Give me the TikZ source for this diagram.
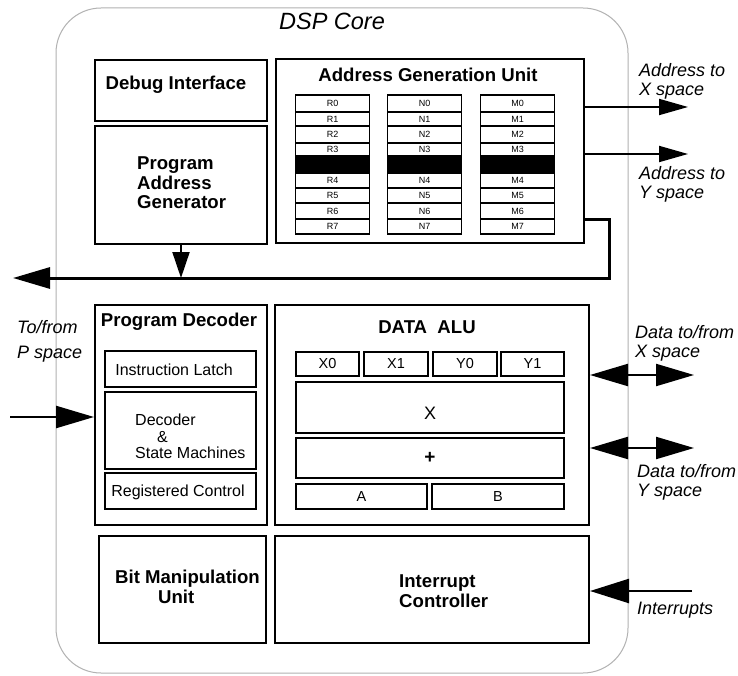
\documentclass[tikz,border=0pt]{standalone}
\usepackage{fontspec}
\setmainfont{Liberation Sans}
\usetikzlibrary{arrows.meta}
\begin{document}
\begin{tikzpicture}[x=1pt,y=-1pt,
  blk/.style={draw, line width=2pt, inner sep=0pt},
  cell/.style={draw, line width=1.4pt, inner sep=0pt, minimum width=74pt,
    font=\fontsize{9}{10}\selectfont},
  reg/.style={draw, line width=1.6pt, inner sep=0pt, font=\fontsize{14.5}{16}\selectfont},
  ttl/.style={font=\fontsize{18.6}{19.5}\selectfont\bfseries, inner sep=0pt},
  txt/.style={font=\fontsize{16}{16.5}\selectfont, inner sep=0pt},
  lbl/.style={font=\fontsize{18}{19}\selectfont\itshape, align=left, anchor=west, inner sep=0pt},
  sig/.style={line width=2pt, -{Triangle[length=29pt,width=16pt]}},
  bus/.style={line width=3pt, -{Triangle[length=37pt,width=21pt]}},
  dsig/.style={line width=2.2pt, {Triangle[length=38pt,width=22pt]}-{Triangle[length=38pt,width=22pt]}},
  insig/.style={line width=2.4pt, -{Triangle[length=38pt,width=22pt]}},
]
\useasboundingbox (0,0) rectangle (738,676);
\fill[white] (0,0) rectangle (738,676);

% DSP core frame
\node[draw=black!30, line width=1pt, rounded corners=45pt, inner sep=0pt,
  minimum width=572pt, minimum height=665pt] (core) at (342,340.5) {};
\node[font=\fontsize{23.5}{25}\selectfont\itshape, inner sep=0pt] (coret) at (332,21) {DSP Core};

% upper left blocks
\node[blk, minimum width=172pt, minimum height=61pt] (dbg) at (181,90.5) {};
\node[ttl] (dbgt) at (176,85) {Debug Interface};
\node[blk, minimum width=172pt, minimum height=118pt] (pag) at (181,185) {};
\node[ttl, align=left, anchor=west] (pagt) at (137,183) {Program\\Address\\Generator};

% address generation unit
\node[blk, minimum width=308pt, minimum height=184pt] (agu) at (430,151) {};
\node[ttl] (agut) at (428,75) {Address Generation Unit};
\foreach \c/\xc in {R/332.5, N/424.5, M/517.5} {
  \foreach \i/\yc/\h in {0/103.5/17, 1/119/14, 2/134.5/17, 3/149.5/13,
                         4/180.5/15, 5/195.5/15, 6/211/16, 7/226.5/15} {
    \node[cell, minimum height=\h pt] (\c\i) at (\xc,\yc) {\c\i};
  }
  \node[cell, fill=black, minimum height=17pt] (\c gap) at (\xc,164.5) {};
}

% address outputs
\coordinate (ax) at (688,107);
\coordinate (ay) at (688,154);
\draw[sig] (agu.east |- ax) -- (ax);
\draw[sig] (agu.east |- ay) -- (ay);
\node[lbl] (axl) at (639,81) {Address to\\X space};
\node[lbl] (ayl) at (639,184) {Address to\\Y space};

% program address bus
\coordinate (busy) at (600,220);
\coordinate (busR) at (609,278);
\coordinate (busL) at (13,278);
\draw[bus, line join=miter] (agu.east |- busy) -| (busR) -- (busL);
\draw[line width=2pt, -{Triangle[length=26pt,width=17pt]}] (pag.south) -- (pag.south |- busL);

% program decoder
\node[blk, minimum width=172pt, minimum height=220pt] (pd) at (181,415) {};
\node[ttl] (pdt) at (179,322) {Program Decoder};
\node[blk, minimum width=151pt, minimum height=36pt] (il) at (180.5,369) {};
\node[txt] (ilt) at (174,370) {Instruction Latch};
\node[blk, minimum width=151pt, minimum height=77pt] (dec) at (180.5,430.5) {};
\node[txt, align=left, anchor=west] (dect) at (135,436.5) {Decoder\\\hspace*{22pt}\&\\State Machines};
\node[blk, minimum width=151pt, minimum height=36pt] (rc) at (180.5,491) {};
\node[txt] (rct) at (178,492) {Registered Control};

% program memory port
\coordinate (pin) at (10,417);
\draw[insig] (pin) -- (pin -| pd.west);
\node[lbl] (pinl) at (17,341) {To/from\\[6pt]P space};

% data ALU
\node[blk, minimum width=314pt, minimum height=220pt] (alu) at (432,415) {};
\node[ttl] (alut) at (427,327) {DATA\ \ ALU};
\node[reg, minimum width=63pt, minimum height=24pt] (x0) at (327.5,364) {X0};
\node[reg, minimum width=64pt, minimum height=24pt] (x1) at (396,364) {X1};
\node[reg, minimum width=64pt, minimum height=24pt] (y0) at (465,364) {Y0};
\node[reg, minimum width=63pt, minimum height=24pt] (y1) at (532.5,364) {Y1};
\node[reg, minimum width=268pt, minimum height=51pt] (mul) at (430,407.5) {};
\node[font=\fontsize{18}{18}\selectfont, inner sep=0pt] (mult) at (430,413) {X};
\node[reg, minimum width=268pt, minimum height=40pt, font=\fontsize{19}{19}\selectfont\bfseries] (add) at (430,458) {+};
\node[reg, minimum width=131pt, minimum height=25pt] (acca) at (361.5,496.5) {A};
\node[reg, minimum width=132pt, minimum height=25pt] (accb) at (498,496.5) {B};

% data ports
\coordinate (dx) at (694,375);
\coordinate (dy) at (694,448);
\draw[dsig] (alu.east |- dx) -- (dx);
\draw[dsig] (alu.east |- dy) -- (dy);
\node[lbl] (dxl) at (635,343) {Data to/from\\X space};
\node[lbl] (dyl) at (637,482) {Data to/from\\Y space};

% bottom blocks
\node[blk, minimum width=167pt, minimum height=107pt] (bmu) at (182.5,589.5) {};
\node[ttl, align=left, anchor=west] (bmut) at (115,587) {Bit Manipulation\\\hspace*{43pt}Unit};
\node[blk, minimum width=314pt, minimum height=107pt] (ic) at (432,589.5) {};
\node[ttl, align=left, anchor=west] (ict) at (399,591) {Interrupt\\Controller};

% interrupt input
\coordinate (intr) at (692,591);
\draw[line width=2.4pt, -{Triangle[length=39pt,width=24pt]}] (intr) -- (intr -| ic.east);
\node[lbl] (intrl) at (637,610) {Interrupts};
\end{tikzpicture}
\end{document}
